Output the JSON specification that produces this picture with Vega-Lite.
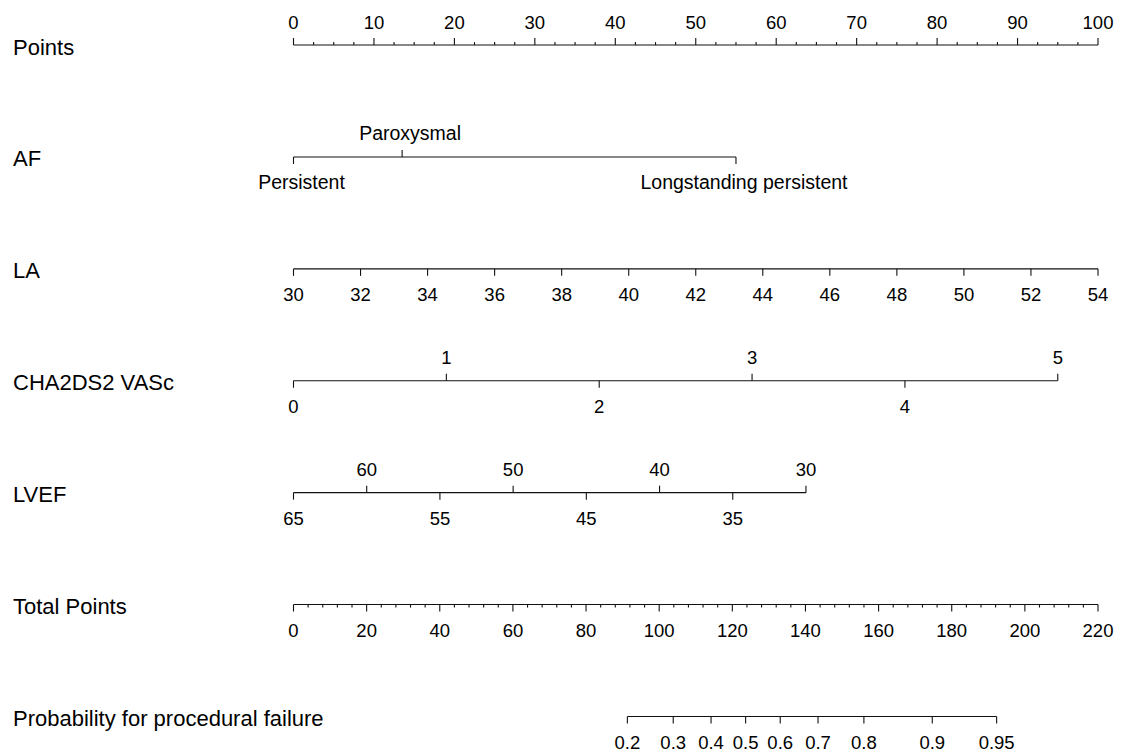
{
  "$schema": "https://vega.github.io/schema/vega-lite/v6.json",
  "width": 804.5,
  "height": 738.5,
  "autosize": {"type": "none"},
  "padding": {"left": 293.5, "top": 11.5, "right": 30, "bottom": 3},
  "background": "white",
  "config": {
    "view": {"stroke": null},
    "text": {"font": "Liberation Sans", "fontSize": 18.5, "color": "#000000"},
    "rule": {"color": "#111111", "strokeWidth": 1.1}
  },
  "data": {
    "values": [
      {"name": "Points", "row": 0, "pts": 0, "label": "0", "side": "above", "kind": "major"},
      {"name": "Points", "row": 0, "pts": 2.5, "label": "", "side": "above", "kind": "minor"},
      {"name": "Points", "row": 0, "pts": 5, "label": "", "side": "above", "kind": "minor"},
      {"name": "Points", "row": 0, "pts": 7.5, "label": "", "side": "above", "kind": "minor"},
      {"name": "Points", "row": 0, "pts": 10, "label": "10", "side": "above", "kind": "major"},
      {"name": "Points", "row": 0, "pts": 12.5, "label": "", "side": "above", "kind": "minor"},
      {"name": "Points", "row": 0, "pts": 15, "label": "", "side": "above", "kind": "minor"},
      {"name": "Points", "row": 0, "pts": 17.5, "label": "", "side": "above", "kind": "minor"},
      {"name": "Points", "row": 0, "pts": 20, "label": "20", "side": "above", "kind": "major"},
      {"name": "Points", "row": 0, "pts": 22.5, "label": "", "side": "above", "kind": "minor"},
      {"name": "Points", "row": 0, "pts": 25, "label": "", "side": "above", "kind": "minor"},
      {"name": "Points", "row": 0, "pts": 27.5, "label": "", "side": "above", "kind": "minor"},
      {"name": "Points", "row": 0, "pts": 30, "label": "30", "side": "above", "kind": "major"},
      {"name": "Points", "row": 0, "pts": 32.5, "label": "", "side": "above", "kind": "minor"},
      {"name": "Points", "row": 0, "pts": 35, "label": "", "side": "above", "kind": "minor"},
      {"name": "Points", "row": 0, "pts": 37.5, "label": "", "side": "above", "kind": "minor"},
      {"name": "Points", "row": 0, "pts": 40, "label": "40", "side": "above", "kind": "major"},
      {"name": "Points", "row": 0, "pts": 42.5, "label": "", "side": "above", "kind": "minor"},
      {"name": "Points", "row": 0, "pts": 45, "label": "", "side": "above", "kind": "minor"},
      {"name": "Points", "row": 0, "pts": 47.5, "label": "", "side": "above", "kind": "minor"},
      {"name": "Points", "row": 0, "pts": 50, "label": "50", "side": "above", "kind": "major"},
      {"name": "Points", "row": 0, "pts": 52.5, "label": "", "side": "above", "kind": "minor"},
      {"name": "Points", "row": 0, "pts": 55, "label": "", "side": "above", "kind": "minor"},
      {"name": "Points", "row": 0, "pts": 57.5, "label": "", "side": "above", "kind": "minor"},
      {"name": "Points", "row": 0, "pts": 60, "label": "60", "side": "above", "kind": "major"},
      {"name": "Points", "row": 0, "pts": 62.5, "label": "", "side": "above", "kind": "minor"},
      {"name": "Points", "row": 0, "pts": 65, "label": "", "side": "above", "kind": "minor"},
      {"name": "Points", "row": 0, "pts": 67.5, "label": "", "side": "above", "kind": "minor"},
      {"name": "Points", "row": 0, "pts": 70, "label": "70", "side": "above", "kind": "major"},
      {"name": "Points", "row": 0, "pts": 72.5, "label": "", "side": "above", "kind": "minor"},
      {"name": "Points", "row": 0, "pts": 75, "label": "", "side": "above", "kind": "minor"},
      {"name": "Points", "row": 0, "pts": 77.5, "label": "", "side": "above", "kind": "minor"},
      {"name": "Points", "row": 0, "pts": 80, "label": "80", "side": "above", "kind": "major"},
      {"name": "Points", "row": 0, "pts": 82.5, "label": "", "side": "above", "kind": "minor"},
      {"name": "Points", "row": 0, "pts": 85, "label": "", "side": "above", "kind": "minor"},
      {"name": "Points", "row": 0, "pts": 87.5, "label": "", "side": "above", "kind": "minor"},
      {"name": "Points", "row": 0, "pts": 90, "label": "90", "side": "above", "kind": "major"},
      {"name": "Points", "row": 0, "pts": 92.5, "label": "", "side": "above", "kind": "minor"},
      {"name": "Points", "row": 0, "pts": 95, "label": "", "side": "above", "kind": "minor"},
      {"name": "Points", "row": 0, "pts": 97.5, "label": "", "side": "above", "kind": "minor"},
      {"name": "Points", "row": 0, "pts": 100, "label": "100", "side": "above", "kind": "major"},

      {"name": "AF", "row": 1, "pts": 0, "label": "Persistent", "side": "below", "kind": "major"},
      {"name": "AF", "row": 1, "pts": 13.5, "label": "Paroxysmal", "side": "above", "kind": "major"},
      {"name": "AF", "row": 1, "pts": 55, "label": "Longstanding persistent", "side": "below", "kind": "major"},

      {"name": "LA", "row": 2, "pts": 0, "label": "30", "side": "below", "kind": "major"},
      {"name": "LA", "row": 2, "pts": 8.3333, "label": "32", "side": "below", "kind": "major"},
      {"name": "LA", "row": 2, "pts": 16.6667, "label": "34", "side": "below", "kind": "major"},
      {"name": "LA", "row": 2, "pts": 25, "label": "36", "side": "below", "kind": "major"},
      {"name": "LA", "row": 2, "pts": 33.3333, "label": "38", "side": "below", "kind": "major"},
      {"name": "LA", "row": 2, "pts": 41.6667, "label": "40", "side": "below", "kind": "major"},
      {"name": "LA", "row": 2, "pts": 50, "label": "42", "side": "below", "kind": "major"},
      {"name": "LA", "row": 2, "pts": 58.3333, "label": "44", "side": "below", "kind": "major"},
      {"name": "LA", "row": 2, "pts": 66.6667, "label": "46", "side": "below", "kind": "major"},
      {"name": "LA", "row": 2, "pts": 75, "label": "48", "side": "below", "kind": "major"},
      {"name": "LA", "row": 2, "pts": 83.3333, "label": "50", "side": "below", "kind": "major"},
      {"name": "LA", "row": 2, "pts": 91.6667, "label": "52", "side": "below", "kind": "major"},
      {"name": "LA", "row": 2, "pts": 100, "label": "54", "side": "below", "kind": "major"},

      {"name": "CHA2DS2 VASc", "row": 3, "pts": 0, "label": "0", "side": "below", "kind": "major"},
      {"name": "CHA2DS2 VASc", "row": 3, "pts": 19, "label": "1", "side": "above", "kind": "major"},
      {"name": "CHA2DS2 VASc", "row": 3, "pts": 38, "label": "2", "side": "below", "kind": "major"},
      {"name": "CHA2DS2 VASc", "row": 3, "pts": 57, "label": "3", "side": "above", "kind": "major"},
      {"name": "CHA2DS2 VASc", "row": 3, "pts": 76, "label": "4", "side": "below", "kind": "major"},
      {"name": "CHA2DS2 VASc", "row": 3, "pts": 95, "label": "5", "side": "above", "kind": "major"},

      {"name": "LVEF", "row": 4, "pts": 0, "label": "65", "side": "below", "kind": "major"},
      {"name": "LVEF", "row": 4, "pts": 9.1, "label": "60", "side": "above", "kind": "major"},
      {"name": "LVEF", "row": 4, "pts": 18.2, "label": "55", "side": "below", "kind": "major"},
      {"name": "LVEF", "row": 4, "pts": 27.3, "label": "50", "side": "above", "kind": "major"},
      {"name": "LVEF", "row": 4, "pts": 36.4, "label": "45", "side": "below", "kind": "major"},
      {"name": "LVEF", "row": 4, "pts": 45.5, "label": "40", "side": "above", "kind": "major"},
      {"name": "LVEF", "row": 4, "pts": 54.6, "label": "35", "side": "below", "kind": "major"},
      {"name": "LVEF", "row": 4, "pts": 63.7, "label": "30", "side": "above", "kind": "major"},

      {"name": "Total Points", "row": 5, "pts": 0, "label": "0", "side": "below", "kind": "major"},
      {"name": "Total Points", "row": 5, "pts": 1.8182, "label": "", "side": "below", "kind": "minor"},
      {"name": "Total Points", "row": 5, "pts": 3.6364, "label": "", "side": "below", "kind": "minor"},
      {"name": "Total Points", "row": 5, "pts": 5.4545, "label": "", "side": "below", "kind": "minor"},
      {"name": "Total Points", "row": 5, "pts": 7.2727, "label": "", "side": "below", "kind": "minor"},
      {"name": "Total Points", "row": 5, "pts": 9.0909, "label": "20", "side": "below", "kind": "major"},
      {"name": "Total Points", "row": 5, "pts": 10.9091, "label": "", "side": "below", "kind": "minor"},
      {"name": "Total Points", "row": 5, "pts": 12.7273, "label": "", "side": "below", "kind": "minor"},
      {"name": "Total Points", "row": 5, "pts": 14.5455, "label": "", "side": "below", "kind": "minor"},
      {"name": "Total Points", "row": 5, "pts": 16.3636, "label": "", "side": "below", "kind": "minor"},
      {"name": "Total Points", "row": 5, "pts": 18.1818, "label": "40", "side": "below", "kind": "major"},
      {"name": "Total Points", "row": 5, "pts": 20, "label": "", "side": "below", "kind": "minor"},
      {"name": "Total Points", "row": 5, "pts": 21.8182, "label": "", "side": "below", "kind": "minor"},
      {"name": "Total Points", "row": 5, "pts": 23.6364, "label": "", "side": "below", "kind": "minor"},
      {"name": "Total Points", "row": 5, "pts": 25.4545, "label": "", "side": "below", "kind": "minor"},
      {"name": "Total Points", "row": 5, "pts": 27.2727, "label": "60", "side": "below", "kind": "major"},
      {"name": "Total Points", "row": 5, "pts": 29.0909, "label": "", "side": "below", "kind": "minor"},
      {"name": "Total Points", "row": 5, "pts": 30.9091, "label": "", "side": "below", "kind": "minor"},
      {"name": "Total Points", "row": 5, "pts": 32.7273, "label": "", "side": "below", "kind": "minor"},
      {"name": "Total Points", "row": 5, "pts": 34.5455, "label": "", "side": "below", "kind": "minor"},
      {"name": "Total Points", "row": 5, "pts": 36.3636, "label": "80", "side": "below", "kind": "major"},
      {"name": "Total Points", "row": 5, "pts": 38.1818, "label": "", "side": "below", "kind": "minor"},
      {"name": "Total Points", "row": 5, "pts": 40, "label": "", "side": "below", "kind": "minor"},
      {"name": "Total Points", "row": 5, "pts": 41.8182, "label": "", "side": "below", "kind": "minor"},
      {"name": "Total Points", "row": 5, "pts": 43.6364, "label": "", "side": "below", "kind": "minor"},
      {"name": "Total Points", "row": 5, "pts": 45.4545, "label": "100", "side": "below", "kind": "major"},
      {"name": "Total Points", "row": 5, "pts": 47.2727, "label": "", "side": "below", "kind": "minor"},
      {"name": "Total Points", "row": 5, "pts": 49.0909, "label": "", "side": "below", "kind": "minor"},
      {"name": "Total Points", "row": 5, "pts": 50.9091, "label": "", "side": "below", "kind": "minor"},
      {"name": "Total Points", "row": 5, "pts": 52.7273, "label": "", "side": "below", "kind": "minor"},
      {"name": "Total Points", "row": 5, "pts": 54.5455, "label": "120", "side": "below", "kind": "major"},
      {"name": "Total Points", "row": 5, "pts": 56.3636, "label": "", "side": "below", "kind": "minor"},
      {"name": "Total Points", "row": 5, "pts": 58.1818, "label": "", "side": "below", "kind": "minor"},
      {"name": "Total Points", "row": 5, "pts": 60, "label": "", "side": "below", "kind": "minor"},
      {"name": "Total Points", "row": 5, "pts": 61.8182, "label": "", "side": "below", "kind": "minor"},
      {"name": "Total Points", "row": 5, "pts": 63.6364, "label": "140", "side": "below", "kind": "major"},
      {"name": "Total Points", "row": 5, "pts": 65.4545, "label": "", "side": "below", "kind": "minor"},
      {"name": "Total Points", "row": 5, "pts": 67.2727, "label": "", "side": "below", "kind": "minor"},
      {"name": "Total Points", "row": 5, "pts": 69.0909, "label": "", "side": "below", "kind": "minor"},
      {"name": "Total Points", "row": 5, "pts": 70.9091, "label": "", "side": "below", "kind": "minor"},
      {"name": "Total Points", "row": 5, "pts": 72.7273, "label": "160", "side": "below", "kind": "major"},
      {"name": "Total Points", "row": 5, "pts": 74.5455, "label": "", "side": "below", "kind": "minor"},
      {"name": "Total Points", "row": 5, "pts": 76.3636, "label": "", "side": "below", "kind": "minor"},
      {"name": "Total Points", "row": 5, "pts": 78.1818, "label": "", "side": "below", "kind": "minor"},
      {"name": "Total Points", "row": 5, "pts": 80, "label": "", "side": "below", "kind": "minor"},
      {"name": "Total Points", "row": 5, "pts": 81.8182, "label": "180", "side": "below", "kind": "major"},
      {"name": "Total Points", "row": 5, "pts": 83.6364, "label": "", "side": "below", "kind": "minor"},
      {"name": "Total Points", "row": 5, "pts": 85.4545, "label": "", "side": "below", "kind": "minor"},
      {"name": "Total Points", "row": 5, "pts": 87.2727, "label": "", "side": "below", "kind": "minor"},
      {"name": "Total Points", "row": 5, "pts": 89.0909, "label": "", "side": "below", "kind": "minor"},
      {"name": "Total Points", "row": 5, "pts": 90.9091, "label": "200", "side": "below", "kind": "major"},
      {"name": "Total Points", "row": 5, "pts": 92.7273, "label": "", "side": "below", "kind": "minor"},
      {"name": "Total Points", "row": 5, "pts": 94.5455, "label": "", "side": "below", "kind": "minor"},
      {"name": "Total Points", "row": 5, "pts": 96.3636, "label": "", "side": "below", "kind": "minor"},
      {"name": "Total Points", "row": 5, "pts": 98.1818, "label": "", "side": "below", "kind": "minor"},
      {"name": "Total Points", "row": 5, "pts": 100, "label": "220", "side": "below", "kind": "major"},

      {"name": "Probability for procedural failure", "row": 6, "pts": 41.5, "label": "0.2", "side": "below", "kind": "major"},
      {"name": "Probability for procedural failure", "row": 6, "pts": 47.2, "label": "0.3", "side": "below", "kind": "major"},
      {"name": "Probability for procedural failure", "row": 6, "pts": 51.9, "label": "0.4", "side": "below", "kind": "major"},
      {"name": "Probability for procedural failure", "row": 6, "pts": 56.2, "label": "0.5", "side": "below", "kind": "major"},
      {"name": "Probability for procedural failure", "row": 6, "pts": 60.5, "label": "0.6", "side": "below", "kind": "major"},
      {"name": "Probability for procedural failure", "row": 6, "pts": 65.2, "label": "0.7", "side": "below", "kind": "major"},
      {"name": "Probability for procedural failure", "row": 6, "pts": 70.9, "label": "0.8", "side": "below", "kind": "major"},
      {"name": "Probability for procedural failure", "row": 6, "pts": 79.4, "label": "0.9", "side": "below", "kind": "major"},
      {"name": "Probability for procedural failure", "row": 6, "pts": 87.4, "label": "0.95", "side": "below", "kind": "major"}
    ]
  },
  "encoding": {
    "y": {
      "field": "name",
      "type": "nominal",
      "sort": {"field": "row", "op": "min"},
      "scale": {"type": "point", "padding": 0.3},
      "axis": {
        "title": null,
        "domain": false,
        "ticks": false,
        "tickSize": 0,
        "grid": false,
        "labelAlign": "left",
        "labelBaseline": "middle",
        "labelPadding": 281,
        "labelOffset": 2,
        "labelLimit": 0,
        "labelFont": "Liberation Sans",
        "labelFontSize": 22,
        "labelColor": "#000000"
      }
    }
  },
  "layer": [
    {
      "transform": [
        {"aggregate": [{"op": "min", "field": "pts", "as": "lo"}, {"op": "max", "field": "pts", "as": "hi"}], "groupby": ["name", "row"]}
      ],
      "mark": {"type": "rule"},
      "encoding": {
        "x": {"field": "lo", "type": "quantitative", "scale": {"domain": [0, 100], "nice": false, "zero": false}, "axis": null},
        "x2": {"field": "hi"}
      }
    },
    {
      "transform": [{"filter": "datum.side === 'above' && datum.kind === 'major'"}],
      "mark": {"type": "rule", "y2Offset": -7},
      "encoding": {
        "x": {"field": "pts", "type": "quantitative", "axis": null},
        "y2": {"field": "name"}
      }
    },
    {
      "transform": [{"filter": "datum.side === 'above' && datum.kind === 'minor'"}],
      "mark": {"type": "rule", "y2Offset": -3},
      "encoding": {
        "x": {"field": "pts", "type": "quantitative", "axis": null},
        "y2": {"field": "name"}
      }
    },
    {
      "transform": [{"filter": "datum.side === 'below' && datum.kind === 'major'"}],
      "mark": {"type": "rule", "y2Offset": 7},
      "encoding": {
        "x": {"field": "pts", "type": "quantitative", "axis": null},
        "y2": {"field": "name"}
      }
    },
    {
      "transform": [{"filter": "datum.side === 'below' && datum.kind === 'minor'"}],
      "mark": {"type": "rule", "y2Offset": 3},
      "encoding": {
        "x": {"field": "pts", "type": "quantitative", "axis": null},
        "y2": {"field": "name"}
      }
    },
    {
      "transform": [{"filter": "datum.side === 'above' && datum.label !== '' && datum.name !== 'AF'"}],
      "mark": {"type": "text", "align": "center", "baseline": "alphabetic", "dy": -16.5},
      "encoding": {
        "x": {"field": "pts", "type": "quantitative", "axis": null},
        "text": {"field": "label"}
      }
    },
    {
      "transform": [{"filter": "datum.side === 'below' && datum.label !== '' && datum.name !== 'AF'"}],
      "mark": {"type": "text", "align": "center", "baseline": "alphabetic", "dy": 32.5},
      "encoding": {
        "x": {"field": "pts", "type": "quantitative", "axis": null},
        "text": {"field": "label"}
      }
    },
    {
      "transform": [{"filter": "datum.side === 'above' && datum.name === 'AF'"}],
      "mark": {"type": "text", "align": "center", "baseline": "alphabetic", "dy": -16.5, "dx": 8, "fontSize": 19.5},
      "encoding": {
        "x": {"field": "pts", "type": "quantitative", "axis": null},
        "text": {"field": "label"}
      }
    },
    {
      "transform": [{"filter": "datum.side === 'below' && datum.name === 'AF'"}],
      "mark": {"type": "text", "align": "center", "baseline": "alphabetic", "dy": 32.5, "dx": 8, "fontSize": 19.5},
      "encoding": {
        "x": {"field": "pts", "type": "quantitative", "axis": null},
        "text": {"field": "label"}
      }
    }
  ]
}
